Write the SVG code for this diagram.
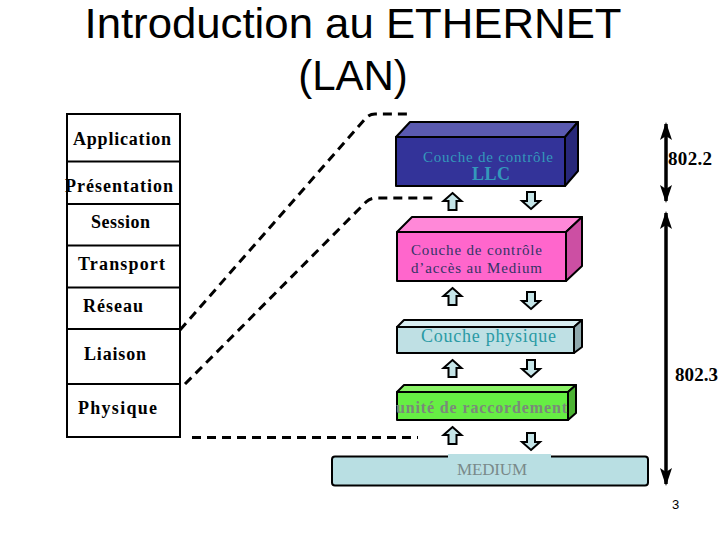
<svg xmlns="http://www.w3.org/2000/svg" width="720" height="540" viewBox="0 0 720 540">
<style>
.title{font-family:"Liberation Sans",Arial,sans-serif;font-size:42px;fill:#000;text-anchor:middle}
.osi{font-family:"Liberation Serif","Times New Roman",serif;font-size:18px;font-weight:bold;fill:#000}
.dash{fill:none;stroke:#000;stroke-width:3;stroke-dasharray:9 6}
.edge{stroke:#000;stroke-width:2;stroke-linejoin:round}
.arr{fill:#c5e5e8;stroke:#000;stroke-width:2;stroke-linejoin:miter}
.ser{font-family:"Liberation Serif","Times New Roman",serif}
.std{font-family:"Liberation Serif","Times New Roman",serif;font-size:19px;font-weight:bold;fill:#000}
.dbl{stroke:#000;stroke-width:3.5;marker-start:url(#ah);marker-end:url(#ah)}
</style>
<defs>
<marker id="ah" viewBox="0 0 18 12" refX="16" refY="6" markerWidth="18" markerHeight="12" markerUnits="userSpaceOnUse" orient="auto-start-reverse">
<path d="M0,0 L18,6 L0,12 L4,6 Z" fill="#000"/>
</marker>
<path id="up" class="arr" d="M0,0 L9,8 L4,8 L4,17 L-4,17 L-4,8 L-9,8 Z"/>
<path id="down" class="arr" d="M0,17 L9,9 L4,9 L4,0 L-4,0 L-4,9 L-9,9 Z"/>
</defs>
<rect width="720" height="540" fill="#fff"/>

<g id="title">
<text class="title" x="353" y="38" textLength="537" lengthAdjust="spacingAndGlyphs">Introduction au ETHERNET</text>
<text class="title" x="353" y="90">(LAN)</text>
</g>

<g id="osi-stack">
<rect x="67" y="114" width="113" height="323" fill="#fff" stroke="#000" stroke-width="2"/>
<path d="M67,161.5H180M67,204H180M67,245.5H180M67,287.5H180M67,329H180M67,384H180" stroke="#000" stroke-width="2"/>
<text class="osi" x="73" y="145" textLength="98" lengthAdjust="spacing">Application</text>
<text class="osi" x="65" y="192" textLength="108" lengthAdjust="spacing">Présentation</text>
<text class="osi" x="91" y="228" textLength="59" lengthAdjust="spacing">Session</text>
<text class="osi" x="78" y="270" textLength="87" lengthAdjust="spacing">Transport</text>
<text class="osi" x="83" y="312" textLength="60" lengthAdjust="spacing">Réseau</text>
<text class="osi" x="84" y="360" textLength="62" lengthAdjust="spacing">Liaison</text>
<text class="osi" x="78" y="414" textLength="79" lengthAdjust="spacing">Physique</text>
</g>

<g id="connectors">
<path class="dash" d="M180,330 L365,119 Q369,114 375,114 L408,114"/>
<path class="dash" d="M185,384 L366,202 Q370,198 376,198 L438,198"/>
<path class="dash" d="M192,437.5 L418,437.5"/>
</g>

<g id="llc">
<polygon class="edge" points="396,137 410,122 578,122 565,137" fill="#5a5ab0"/>
<polygon class="edge" points="565,137 578,122 578,171 565,186" fill="#28287a"/>
<rect class="edge" x="396" y="137" width="169" height="49" fill="#333399"/>
<text class="ser" x="423" y="162" font-size="15" fill="#3399bb" textLength="130" lengthAdjust="spacing">Couche de contrôle</text>
<text class="ser" x="472" y="180" font-size="18" font-weight="bold" fill="#3399bb" textLength="38" lengthAdjust="spacing">LLC</text>
</g>

<g id="mac">
<polygon class="edge" points="397,232 412,217 582,217 566,232" fill="#ff88d8"/>
<polygon class="edge" points="566,232 582,217 582,266 566,281" fill="#cc4fa3"/>
<rect class="edge" x="397" y="232" width="169" height="49" fill="#ff66cc"/>
<text class="ser" x="411" y="255" font-size="15" fill="#333366" textLength="131" lengthAdjust="spacing">Couche de contrôle</text>
<text class="ser" x="411" y="273" font-size="15" fill="#333366" textLength="131" lengthAdjust="spacing">d’accès au Medium</text>
</g>

<g id="phys">
<polygon class="edge" points="397,327 404,320 582,320 574,327" fill="#d8eef1"/>
<polygon class="edge" points="574,327 582,320 582,347 574,353" fill="#8fa9ad"/>
<rect class="edge" x="397" y="327" width="177" height="26" fill="#bfe0e4"/>
<text class="ser" x="421" y="342" font-size="18" fill="#2a9aa5" textLength="135" lengthAdjust="spacing">Couche physique</text>
</g>

<g id="unite">
<polygon class="edge" points="397,392 404,385 576,385 568,392" fill="#8af266"/>
<polygon class="edge" points="568,392 576,385 576,413 568,420" fill="#4cb333"/>
<rect class="edge" x="397" y="392" width="171" height="28" fill="#66ee44"/>
<text class="ser" x="396" y="413" font-size="16" font-weight="bold" fill="#7a8a7a" textLength="171" lengthAdjust="spacing">unité de raccordement</text>
</g>

<g id="medium">
<rect x="332" y="456.5" width="316" height="29" rx="3" fill="#b9dfe3" stroke="#000" stroke-width="2"/>
<rect x="448" y="454" width="103" height="5" fill="#b9dfe3"/>
<text class="ser" x="457" y="475" font-size="17" fill="#7a8a8a" textLength="70" lengthAdjust="spacing">MEDIUM</text>
</g>

<g id="arrows">
<use href="#up" x="452.5" y="193"/>
<use href="#down" x="531" y="192"/>
<use href="#up" x="452.5" y="288"/>
<use href="#down" x="531" y="292"/>
<use href="#up" x="452.5" y="360"/>
<use href="#down" x="531" y="360"/>
<use href="#up" x="452.5" y="427"/>
<use href="#down" x="531" y="433"/>
</g>

<g id="std-8022">
<line class="dbl" x1="666" y1="124" x2="666" y2="201"/>
<text class="std" x="668" y="165" textLength="44" lengthAdjust="spacing">802.2</text>
</g>
<g id="std-8023">
<line class="dbl" x1="666" y1="213" x2="666" y2="484"/>
<text class="std" x="675" y="381" textLength="43" lengthAdjust="spacing">802.3</text>
</g>
<text x="672" y="509" font-family="Liberation Sans,Arial,sans-serif" font-size="13" fill="#000">3</text>
</svg>
